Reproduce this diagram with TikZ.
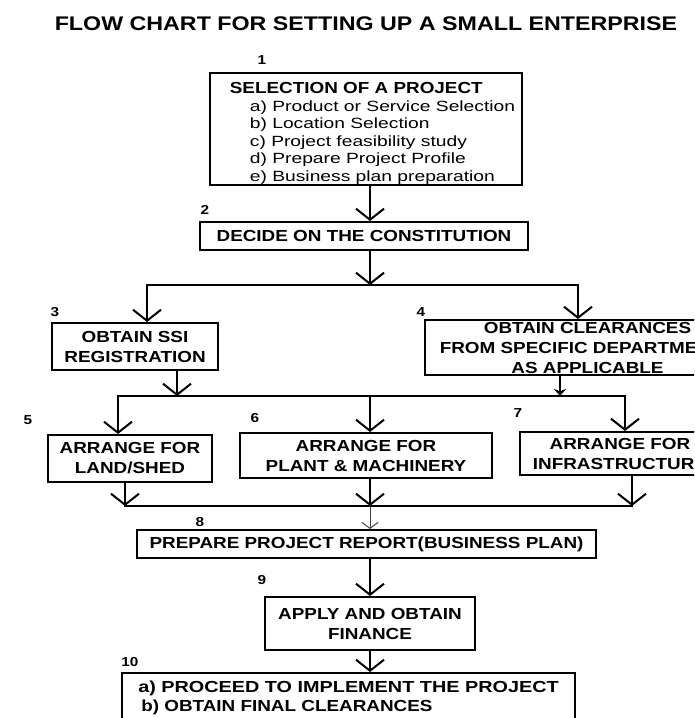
\documentclass[tikz,border=0pt]{standalone}
\usepackage{fontspec}
\setmainfont{Liberation Sans}
\newfontfamily\mainb[FakeStretch=1.18]{Liberation Sans}
\newfontfamily\itemf[FakeStretch=1.3]{Liberation Sans}
\usetikzlibrary{arrows.meta,calc}
\tikzset{
  box/.style={draw, line width=2pt, rectangle, inner sep=0pt, align=center,
    font=\mainb\bfseries\fontsize{16}{20}\selectfont},
  num/.style={inner sep=0pt, font=\mainb\bfseries\fontsize{13}{15}\selectfont},
  titlestyle/.style={inner sep=0pt, font=\mainb\bfseries\fontsize{19.7}{22}\selectfont},
  ln/.style={line width=2pt, line cap=rect},
  arr/.style={line width=2pt, -{Straight Barb[length=11pt,width=28pt,line width=2pt]}},
  sarr/.style={line width=1.6pt, -{Stealth[length=7pt,width=12pt]}},
  tarr/.style={line width=0.8pt, draw=black!75, -{Straight Barb[length=6pt,width=16pt,line width=1pt]}},
}
\begin{document}
\begin{tikzpicture}[x=1pt,y=-1pt]
\useasboundingbox (0,0) rectangle (694,718);
\fill[white] (0,0) rectangle (694,718);
\clip (0,0) rectangle (694,718);

\node[titlestyle] (title) at (366,24) {FLOW CHART FOR SETTING UP A SMALL ENTERPRISE};

% numbers
\node[num] (n1) at (262,60) {1};
\node[num] (n2) at (205,210) {2};
\node[num] (n3) at (55,312) {3};
\node[num] (n4) at (421,312) {4};
\node[num] (n5) at (28,420) {5};
\node[num] (n6) at (255,418) {6};
\node[num] (n7) at (518,413) {7};
\node[num] (n8) at (200,522) {8};
\node[num] (n9) at (262,580) {9};
\node[num] (n10) at (130,662) {10};

% boxes
\node[box, minimum width=312pt, minimum height=112pt, align=left,
  font=\itemf\fontsize{14.8}{17.6}\selectfont] (b1) at (366,129)
  {\rule{0pt}{20pt}\hspace*{13pt}{\mainb\bfseries\fontsize{16}{17.6}\selectfont SELECTION OF A PROJECT}\\
   \hspace*{33pt}a) Product or Service Selection\\
   \hspace*{33pt}b) Location Selection\\
   \hspace*{33pt}c) Project feasibility study\\
   \hspace*{33pt}d) Prepare Project Profile\\
   \hspace*{33pt}e) Business plan preparation};
\node[box, minimum width=328pt, minimum height=28pt] (b2) at (364,236) {DECIDE ON THE CONSTITUTION};
\node[box, minimum width=166pt, minimum height=47pt] (b3) at (135,346.5) {OBTAIN SSI\\REGISTRATION};
\node[box, minimum width=325pt, minimum height=55pt] (b4) at (587.5,347.5) {OBTAIN CLEARANCES\\FROM SPECIFIC DEPARTMENTS\\AS APPLICABLE};
\node[box, minimum width=164pt, minimum height=47pt] (b5) at (130,458.5) {ARRANGE FOR\\LAND/SHED};
\node[box, minimum width=252pt, minimum height=45pt] (b6) at (366,455.5) {ARRANGE FOR\\PLANT \& MACHINERY};
\node[box, minimum width=200pt, minimum height=43pt] (b7) at (620,453.5) {ARRANGE FOR\\INFRASTRUCTURE};
\node[box, minimum width=459pt, minimum height=28pt] (b8) at (366.5,544) {PREPARE PROJECT REPORT(BUSINESS PLAN)};
\node[box, minimum width=210pt, minimum height=53pt] (b9) at (370,623.5) {APPLY AND OBTAIN\\FINANCE};
\node[box, minimum width=453pt, inner ysep=8pt, anchor=north, align=left,
  font=\mainb\bfseries\fontsize{16}{19}\selectfont] (b10) at (348.5,672)
  {\scalebox{1.05}[1]{a) PROCEED TO IMPLEMENT THE PROJECT}\\
   \hspace*{3pt}b) OBTAIN FINAL CLEARANCES};

% connectors
\coordinate (ax) at (370,0);
\coordinate (j1) at (370,285);
\coordinate (j1L) at (147,285);
\coordinate (j1R) at (578,285);
\coordinate (j2L) at (118,396);
\coordinate (j2M) at (370,396);
\coordinate (j2R) at (625,396);
\coordinate (j2a) at (177,396);
\coordinate (j2b) at (560,396);
\coordinate (j3L) at (125,506);
\coordinate (j3M) at (370,506);
\coordinate (j3R) at (632,506);

\draw[arr] (b1.south -| ax) -- (b2.north -| ax);
\draw[arr] (b2.south -| ax) -- (j1);
\draw[ln] (j1L) -- (j1R);
\draw[arr] (j1L) -- (b3.north -| j1L);
\draw[arr] (j1R) -- (b4.north -| j1R);

\draw[arr] (b3.south -| j2a) -- (j2a);
\draw[sarr] (b4.south -| j2b) -- (j2b);
\draw[ln] (j2L) -- (j2R);
\draw[arr] (j2L) -- (b5.north -| j2L);
\draw[arr] (j2M) -- (b6.north -| j2M);
\draw[arr] (j2R) -- (b7.north -| j2R);

\draw[arr] (b5.south -| j3L) -- (j3L);
\draw[arr] (b6.south -| j3M) -- (j3M);
\draw[arr] (b7.south -| j3R) -- (j3R);
\draw[ln] (j3L) -- (j3R);
\draw[tarr] (j3M) -- (b8.north -| j3M);

\draw[arr] (b8.south -| ax) -- (b9.north -| ax);
\draw[arr] (b9.south -| ax) -- (b10.north -| ax);
\end{tikzpicture}
\end{document}
